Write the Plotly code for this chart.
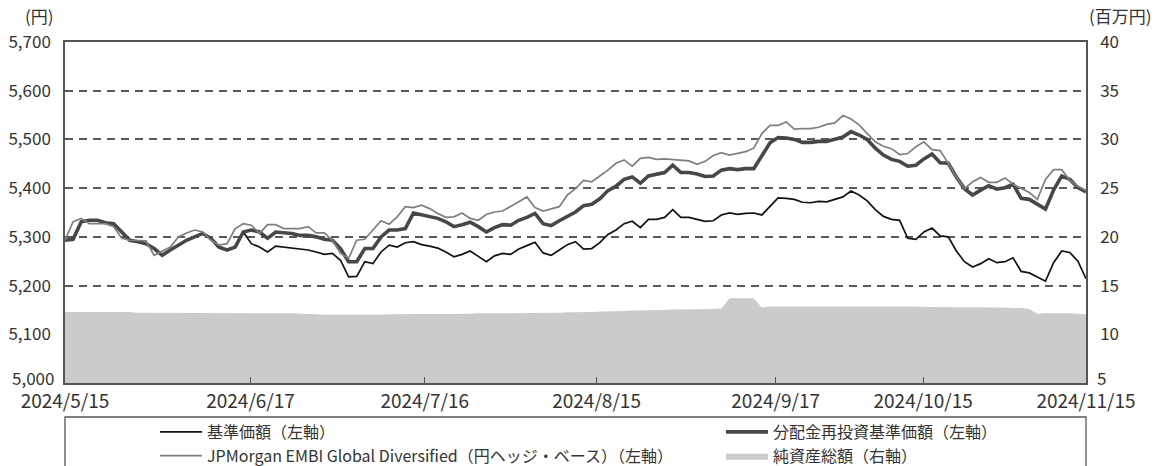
import plotly.graph_objects as go

# ---- data ----
tick_labels = ["2024/5/15", "2024/6/17", "2024/7/16", "2024/8/15",
               "2024/9/17", "2024/10/15", "2024/11/15"]
tick_pos = [0, 22.9, 44.4, 65.6, 87.7, 105.9, 126]

left_ticks = [5000, 5100, 5200, 5300, 5400, 5500, 5600, 5700]
right_ticks = [5, 10, 15, 20, 25, 30, 35, 40]

nav_reinvested = [
    5293, 5295, 5331, 5334, 5334, 5329, 5327, 5310, 5293, 5290,
    5286, 5276, 5262, 5273, 5283, 5293, 5300, 5307, 5297, 5279,
    5273, 5279, 5310, 5314, 5310, 5297, 5310, 5308, 5307, 5303,
    5303, 5300, 5295, 5293, 5276, 5249, 5249, 5276, 5276, 5300,
    5314, 5314, 5317, 5349, 5345, 5342, 5338, 5331, 5321, 5325,
    5330, 5321, 5310, 5319, 5325, 5324, 5334, 5340, 5348, 5327,
    5323, 5333, 5342, 5351, 5364, 5367, 5378, 5395, 5404, 5418,
    5423, 5410, 5425, 5429, 5432, 5447, 5432, 5432, 5429, 5424,
    5425, 5437, 5440, 5438, 5440, 5440, 5468, 5493, 5504, 5503,
    5500, 5494, 5494, 5496, 5496, 5501, 5505, 5516, 5509, 5500,
    5482, 5468, 5459, 5455, 5445, 5447, 5460, 5470, 5452, 5451,
    5423, 5399, 5386, 5396, 5405, 5398, 5401, 5408, 5379, 5377,
    5366, 5357, 5396, 5425, 5418, 5401, 5392,
]

nav = [
    5293, 5295, 5331, 5334, 5334, 5329, 5327, 5310, 5293, 5290,
    5286, 5276, 5262, 5273, 5283, 5293, 5300, 5307, 5297, 5279,
    5273, 5279, 5310, 5286, 5279, 5269, 5281, 5279, 5276, 5274,
    5273, 5269, 5264, 5266, 5252, 5218, 5219, 5249, 5245, 5269,
    5283, 5279, 5288, 5290, 5284, 5281, 5277, 5269, 5259, 5264,
    5271, 5260, 5249, 5261, 5266, 5264, 5275, 5282, 5289, 5267,
    5262, 5273, 5284, 5290, 5275, 5276, 5288, 5305, 5314, 5327,
    5332, 5319, 5336, 5336, 5340, 5356, 5340, 5340, 5336, 5332,
    5333, 5345, 5349, 5346, 5348, 5349, 5345, 5363, 5380, 5379,
    5377, 5371, 5370, 5373, 5372, 5377, 5382, 5394, 5386, 5374,
    5356, 5342, 5336, 5334, 5297, 5295, 5310, 5318, 5302, 5300,
    5271, 5249, 5238, 5245, 5255, 5247, 5249, 5257, 5229, 5226,
    5218, 5209, 5247, 5271, 5268, 5250, 5214,
]

jpm_index = [
    5293, 5331, 5338, 5327, 5327, 5327, 5321, 5297, 5293, 5293,
    5292, 5262, 5271, 5279, 5300, 5308, 5314, 5310, 5293, 5283,
    5286, 5317, 5327, 5324, 5307, 5325, 5325, 5317, 5317, 5317,
    5321, 5308, 5308, 5293, 5266, 5256, 5293, 5295, 5314, 5333,
    5326, 5341, 5362, 5360, 5365, 5358, 5348, 5340, 5341, 5349,
    5338, 5334, 5346, 5351, 5353, 5362, 5372, 5382, 5360, 5353,
    5358, 5362, 5386, 5399, 5416, 5413, 5425, 5437, 5451, 5458,
    5445, 5461, 5463, 5459, 5460, 5459, 5458, 5456, 5449, 5455,
    5467, 5473, 5468, 5471, 5475, 5482, 5512, 5529, 5529, 5536,
    5521, 5522, 5522, 5525, 5531, 5534, 5549, 5542, 5530, 5512,
    5495, 5486, 5481, 5469, 5471, 5485, 5495, 5479, 5477, 5451,
    5423, 5399, 5413, 5422, 5412, 5412, 5421, 5408, 5399, 5391,
    5377, 5418, 5438, 5438, 5416, 5404, 5395,
]

net_assets = [
    12.3, 12.3, 12.3, 12.3, 12.3, 12.3, 12.3, 12.3, 12.3, 12.2,
    12.2, 12.2, 12.2, 12.2, 12.2, 12.2, 12.15, 12.15, 12.15, 12.15,
    12.15, 12.15, 12.15, 12.15, 12.15, 12.15, 12.15, 12.15, 12.15, 12.1,
    12.1, 12.05, 12.0, 12.0, 11.95, 11.95, 12.0, 12.0, 12.0, 12.0,
    12.05, 12.05, 12.05, 12.05, 12.1, 12.1, 12.1, 12.1, 12.1, 12.1,
    12.1, 12.15, 12.15, 12.15, 12.15, 12.15, 12.15, 12.2, 12.2, 12.2,
    12.2, 12.2, 12.25, 12.25, 12.3, 12.3, 12.35, 12.35, 12.4, 12.4,
    12.45, 12.45, 12.5, 12.5, 12.5, 12.55, 12.55, 12.55, 12.55, 12.6,
    12.6, 12.65, 13.7, 13.7, 13.7, 13.7, 12.75, 12.85, 12.85, 12.85,
    12.85, 12.85, 12.85, 12.85, 12.85, 12.85, 12.9, 12.9, 12.9, 12.9,
    12.9, 12.85, 12.85, 12.85, 12.85, 12.85, 12.8, 12.8, 12.8, 12.8,
    12.8, 12.8, 12.8, 12.75, 12.75, 12.75, 12.75, 12.7, 12.7, 12.6,
    12.1, 12.15, 12.15, 12.2, 12.15, 12.1, 12.05,
]

x = list(range(len(nav)))

FONT = "Noto Sans CJK JP, Noto Sans, sans-serif"
TXT = "#333333"
AX = "#555555"

fig = go.Figure()

fig.add_trace(go.Scatter(
    x=x, y=net_assets, yaxis="y2", mode="lines", name="純資産総額（右軸）",
    fill="tozeroy", fillcolor="#cbcbcb", line=dict(color="#cbcbcb", width=0),
    legend="legend2", legendrank=2, hoverinfo="skip"))
fig.add_trace(go.Scatter(
    x=x, y=nav, mode="lines", name="基準価額（左軸）",
    line=dict(color="#111111", width=1.7),
    legend="legend", legendrank=1))
fig.add_trace(go.Scatter(
    x=x, y=nav_reinvested, mode="lines", name="分配金再投資基準価額（左軸）",
    line=dict(color="#474747", width=3.6),
    legend="legend2", legendrank=1))
fig.add_trace(go.Scatter(
    x=x, y=jpm_index, mode="lines",
    name="JPMorgan EMBI Global Diversified（円ヘッジ・ベース）（左軸）",
    line=dict(color="#7f7f7f", width=1.7),
    legend="legend", legendrank=2))

# the lowest tick labels sit a little higher than their axis line
annotations = [
    dict(text="(円)", xref="paper", yref="paper", x=0, y=1,
         xanchor="right", yanchor="bottom", xshift=-9, yshift=12,
         showarrow=False, font=dict(size=17, color=TXT)),
    dict(text="(百万円)", xref="paper", yref="paper", x=1, y=1,
         xanchor="left", yanchor="bottom", xshift=1, yshift=12,
         showarrow=False, font=dict(size=17, color=TXT)),
    dict(text=f"{left_ticks[0]:,}", xref="paper", yref="y", x=0,
         y=left_ticks[0], xanchor="right", yanchor="middle", xshift=-9,
         yshift=6, showarrow=False, font=dict(size=17, color=TXT)),
    dict(text=f"{right_ticks[0]}", xref="paper", yref="y2", x=1,
         y=right_ticks[0], xanchor="left", yanchor="middle", xshift=9,
         yshift=6, showarrow=False, font=dict(size=17, color=TXT)),
]

fig.update_layout(
    width=1158, height=466,
    margin=dict(l=65, r=72, t=42, b=83, autoexpand=False),
    paper_bgcolor="white", plot_bgcolor="white",
    font=dict(family=FONT, size=16, color=TXT),
    xaxis=dict(
        range=[0, len(nav) - 1], tickmode="array",
        tickvals=tick_pos, ticktext=tick_labels,
        ticks="inside", ticklen=6, tickcolor=AX, tickwidth=1.2,
        showline=True, linecolor=AX, linewidth=1.5, mirror=True,
        showgrid=False, zeroline=False,
        tickfont=dict(size=19, color=TXT),
    ),
    yaxis=dict(
        range=[left_ticks[0], left_ticks[-1]], tickmode="array",
        tickvals=left_ticks[1:], ticktext=[f"{v:,}" for v in left_ticks[1:]],
        showline=True, linecolor=AX, linewidth=1.5,
        showgrid=True, gridcolor="#5a5a5a", gridwidth=1.5, griddash="8px,6px",
        zeroline=False, ticks="", ticklabelstandoff=9,
        tickfont=dict(size=17, color=TXT),
    ),
    yaxis2=dict(
        range=[right_ticks[0], right_ticks[-1]], tickmode="array",
        tickvals=right_ticks[1:], ticktext=[str(v) for v in right_ticks[1:]],
        overlaying="y", side="right", showline=True, linecolor=AX,
        linewidth=1.5, showgrid=False, zeroline=False, ticks="",
        ticklabelstandoff=9, tickfont=dict(size=17, color=TXT),
    ),
    legend=dict(
        x=(155 - 65) / 1021, xanchor="left", y=(383 - 415) / 341,
        yanchor="top", orientation="v", bgcolor="rgba(0,0,0,0)",
        font=dict(size=16, color=TXT, family=FONT), tracegroupgap=0,
        itemwidth=42,
    ),
    legend2=dict(
        x=(721 - 65) / 1021, xanchor="left", y=(383 - 415) / 341,
        yanchor="top", orientation="v", bgcolor="rgba(0,0,0,0)",
        font=dict(size=16, color=TXT, family=FONT), tracegroupgap=0,
        itemwidth=42,
    ),
    showlegend=True,
    shapes=[dict(
        type="rect", xref="paper", yref="paper",
        x0=0, x1=1, y0=(383 - 417) / 341, y1=(383 - 500) / 341,
        line=dict(color=AX, width=1.3), fillcolor="rgba(0,0,0,0)",
    )],
    annotations=annotations,
)

fig.write_html("out.html", post_script="document.body.style.margin='0';",
               config={"displayModeBar": False})
